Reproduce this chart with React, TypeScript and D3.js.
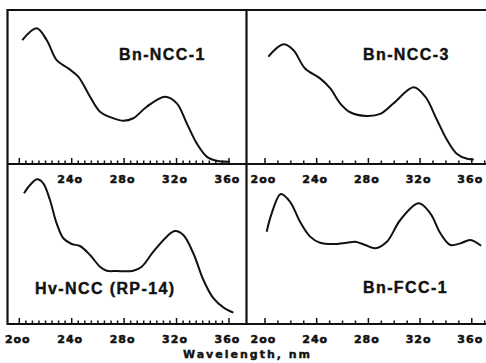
import React from "react";
import * as d3 from "d3";

// ---- data (wavelength nm, relative absorbance 0..1 of panel height) ----
const bnNcc1: [number, number][] = [
  [202.3, 0.805], [213.3, 0.881], [220.9, 0.805], [228.5, 0.675], [237.4, 0.621],
  [245, 0.567], [254, 0.437], [261.6, 0.34], [271.8, 0.297], [279.4, 0.281],
  [287, 0.297], [297.3, 0.372], [311.2, 0.437], [320.2, 0.394], [327.8, 0.264],
  [335.4, 0.134], [343, 0.048], [350.7, 0.021], [360.8, 0.015],
];
const bnNcc3: [number, number][] = [
  [202.6, 0.697], [214.2, 0.777], [221.9, 0.74], [231, 0.62], [242.6, 0.556],
  [250.4, 0.492], [258.1, 0.394], [265.9, 0.336], [278.8, 0.312], [289.1, 0.325],
  [299.5, 0.394], [315, 0.498], [324, 0.437], [333.1, 0.286], [340.9, 0.156],
  [348.6, 0.065], [356.4, 0.034], [361.5, 0.03],
];
const hvNcc: [number, number][] = [
  [203.6, 0.817], [208.2, 0.869], [213.7, 0.904], [218.3, 0.879], [223.4, 0.775],
  [228.5, 0.629], [233.6, 0.536], [240, 0.5], [246.3, 0.4875], [254, 0.431],
  [261.6, 0.358], [266.7, 0.333], [274.4, 0.331], [287, 0.333], [293.4, 0.358],
  [302.3, 0.452], [312.5, 0.546], [318.9, 0.581], [325.2, 0.556], [332.8, 0.442],
  [340.5, 0.275], [348.1, 0.161], [355.7, 0.104], [363.4, 0.071],
];
const bnFcc1: [number, number][] = [
  [201.3, 0.577], [205.2, 0.692], [212.2, 0.8125], [219.4, 0.764], [227.1, 0.639],
  [234.9, 0.546], [242.6, 0.508], [252.9, 0.5], [263.3, 0.508], [269.8, 0.514],
  [277.5, 0.494], [285.3, 0.473], [294.3, 0.514], [304.7, 0.65], [318.8, 0.754],
  [327.9, 0.692], [335.7, 0.567], [343.4, 0.494], [351.2, 0.504], [358.9, 0.525],
  [367.2, 0.489],
];
const tickValues = [200, 240, 280, 320, 360];
const tickLabels = ["2oo", "24o", "28o", "32o", "36o"];
const titles = ["Bn-NCC-1", "Bn-NCC-3", "Hv-NCC (RP-14)", "Bn-FCC-1"];
const axisTitle = "Wavelength, nm";

// ---- layout ----
const W = 486, H = 363;
const xL0 = 7.5, xMid = 246.5, xR1 = 486;
const yTop = 10, yAx1 = 164, yAx2 = 324;
const labelFont = "'DejaVu Sans', sans-serif";
const titleFont = "'Liberation Sans', Arial, sans-serif";

export default function App() {
  const xLeft = d3.scaleLinear().domain([191, 373.4]).range([xL0, xMid]);
  const xRight = d3.scaleLinear().domain([185.7, 371]).range([xMid, xR1]);
  const yUp = d3.scaleLinear().domain([0, 1]).range([yAx1, yTop]);
  const yDown = d3.scaleLinear().domain([0, 1]).range([yAx2, yAx1]);

  const panels = [
    { data: bnNcc1, x: xLeft, y: yUp, title: titles[0], tx: 119, ty: 60 },
    { data: bnNcc3, x: xRight, y: yUp, title: titles[1], tx: 363, ty: 60 },
    { data: hvNcc, x: xLeft, y: yDown, title: titles[2], tx: 35, ty: 294 },
    { data: bnFcc1, x: xRight, y: yDown, title: titles[3], tx: 363, ty: 293 },
  ];

  const minorLeft = d3.range(200, 361, 5);
  const minorRight = d3.range(200, 371, 10);

  const axes = [
    { x: xLeft, y: yAx1, minor: minorLeft, labelFrom: 1 },
    { x: xRight, y: yAx1, minor: minorRight, labelFrom: 0 },
    { x: xLeft, y: yAx2, minor: minorLeft, labelFrom: 0 },
    { x: xRight, y: yAx2, minor: minorRight, labelFrom: 0 },
  ];

  return (
    <svg
      width={W}
      height={H}
      style={{ position: "absolute", left: 0, top: 0, background: "#fff" }}
    >
      <rect x={0} y={0} width={W} height={H} fill="#fff" />
      {/* frame */}
      <g stroke="#111" strokeWidth={2.2} fill="none">
        <line x1={xL0} x2={xR1} y1={yTop} y2={yTop} />
        <line x1={xL0} x2={xR1} y1={yAx1} y2={yAx1} />
        <line x1={xL0} x2={xR1} y1={yAx2} y2={yAx2} />
        <line x1={xL0} x2={xL0} y1={yTop - 1} y2={yAx2 + 1} />
        <line x1={xMid} x2={xMid} y1={yTop - 1} y2={yAx2 + 1} />
      </g>
      {/* ticks and labels */}
      {axes.map((a, i) => (
        <g key={i}>
          {a.minor.map((v) => (
            <line
              key={v}
              x1={a.x(v)}
              x2={a.x(v)}
              y1={a.y}
              y2={a.y - (v % 40 === 0 ? 6 : 3.5)}
              stroke="#111"
              strokeWidth={1.5}
            />
          ))}
          {tickValues.map((v, k) =>
            k >= a.labelFrom ? (
              <text
                key={v}
                x={a.x(v) - 1.5}
                y={a.y + 19}
                textAnchor="middle"
                fontFamily={labelFont}
                fontWeight="bold"
                fontSize={11}
                letterSpacing={1}
                fill="#111"
                stroke="#111"
                strokeWidth={0.5}
              >
                {tickLabels[k]}
              </text>
            ) : null
          )}
        </g>
      ))}
      {/* curves */}
      {panels.map((p, i) => {
        const line = d3
          .line<[number, number]>()
          .x((d) => p.x(d[0]))
          .y((d) => p.y(d[1]))
          .curve(d3.curveCatmullRom.alpha(0.5));
        return (
          <g key={i}>
            <path d={line(p.data) || ""} fill="none" stroke="#111" strokeWidth={2} />
            <text
              x={p.tx}
              y={p.ty}
              fontFamily={titleFont}
              fontWeight="bold"
              fontSize={16}
              letterSpacing={1.4}
              fill="#111"
              stroke="#111"
              strokeWidth={0.4}
            >
              {p.title}
            </text>
          </g>
        );
      })}
      <text
        x={xMid + 1}
        y={358}
        textAnchor="middle"
        fontFamily={labelFont}
        fontWeight="bold"
        fontSize={11}
        letterSpacing={2}
        fill="#111"
        stroke="#111"
        strokeWidth={0.4}
      >
        {axisTitle}
      </text>
    </svg>
  );
}
